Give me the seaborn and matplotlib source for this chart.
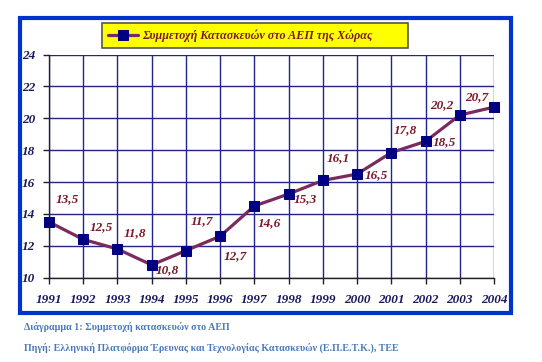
import matplotlib
matplotlib.use("Agg")
import matplotlib.pyplot as plt
import seaborn as sns
import pandas as pd
from matplotlib.patches import Rectangle

years = [1991, 1992, 1993, 1994, 1995, 1996, 1997, 1998, 1999, 2000, 2001, 2002, 2003, 2004]
share = [13.5, 12.4, 11.8, 10.8, 11.7, 12.6, 14.5, 15.25, 16.1, 16.5, 17.85, 18.55, 20.2, 20.7]
labels = ["13,5", "12,5", "11,8", "10,8", "11,7", "12,7", "14,6", "15,3",
          "16,1", "16,5", "17,8", "18,5", "20,2", "20,7"]
# label offsets in pixels (dx, dy), screen y up
offsets = [(18, 23), (18, 12), (17, 16), (16, -5), (16, 29), (15, -20), (15, -17),
           (17, -5), (15, 22), (19, -1), (14, 22), (19, -1), (-18, 10), (-17, 10)]
series_name = "Συμμετοχή Κατασκευών στο ΑΕΠ της Χώρας"

df = pd.DataFrame({"year": years, "share": share, "series": series_name})

sns.set_style("white")
plt.rcParams["font.family"] = ["Liberation Serif", "DejaVu Serif"]

W, H = 542, 362
fig = plt.figure(figsize=(W / 100, H / 100), dpi=100)
ax = fig.add_axes([49 / W, 1 - 277.7 / H, 445 / W, 223.2 / H])

line_col = "#7a2a5c"
navy = "#000080"
grid_col = "#23238a"
text_red = "#7a1a2a"

sns.lineplot(data=df, x="year", y="share", hue="series", palette=[line_col],
             marker="s", markersize=6.5, markerfacecolor=navy, markeredgecolor=navy,
             linewidth=2.3, ax=ax, legend=True, clip_on=False, zorder=5)

ax.set_xlim(1991, 2004)
ax.set_ylim(10, 24)
ax.set_xticks(years)
ax.set_yticks(range(10, 25, 2))
ax.grid(True, color=grid_col, linewidth=1)
for s in ["top", "right"]:
    ax.spines[s].set_visible(False)
for s in ["left", "bottom"]:
    ax.spines[s].set_color("#222222")
    ax.spines[s].set_linewidth(1)
ax.tick_params(axis="both", direction="out", length=4, width=1, color="#222222",
               labelsize=9.5, labelcolor="#1a1a5e", bottom=True, left=True)
ax.tick_params(axis="x", pad=8)
ax.tick_params(axis="y", pad=6)
for t in ax.get_xticklabels() + ax.get_yticklabels():
    t.set_fontweight("bold")
    t.set_fontstyle("italic")
ax.set_xlabel("")
ax.set_ylabel("")

for x, y, lab, (dx, dy) in zip(years, share, labels, offsets):
    ax.annotate(lab, (x, y), xytext=(dx, dy), textcoords="offset pixels",
                ha="center", va="center", fontsize=9.5, fontweight="bold",
                fontstyle="italic", color=text_red, zorder=6)

handles, labs = ax.get_legend_handles_labels()
ax.get_legend().remove()
leg = fig.legend(handles, labs, loc="lower left", mode="expand",
                 bbox_to_anchor=(102 / W, 1 - 48 / H, 306 / W, 26 / H),
                 frameon=True, fancybox=False, framealpha=1, borderpad=0.5,
                 handlelength=2.5, handletextpad=0.3, borderaxespad=0,
                 prop={"size": 8.7, "weight": "bold", "style": "italic"})
leg.get_frame().set_facecolor("#ffff00")
leg.get_frame().set_edgecolor("#555555")
leg.get_frame().set_linewidth(1.2)
for t in leg.get_texts():
    t.set_color(text_red)

fig.patches.append(Rectangle((20 / W, 1 - 313 / H), 491 / W, 295 / H,
                             transform=fig.transFigure, fill=False,
                             edgecolor="#0033cc", linewidth=3, zorder=0))

cap_col = "#4a7ab8"
fig.text(24 / W, 1 - 327 / H, "Διάγραμμα 1: Συμμετοχή κατασκευών στο ΑΕΠ",
         fontsize=7.2, fontweight="bold", color=cap_col, va="center")
fig.text(24 / W, 1 - 348 / H,
         "Πηγή: Ελληνική Πλατφόρμα Έρευνας και Τεχνολογίας Κατασκευών (Ε.Π.Ε.Τ.Κ.), ΤΕΕ",
         fontsize=7.2, fontweight="bold", color=cap_col, va="center")

fig.savefig("out.png", dpi=100, facecolor="white")
